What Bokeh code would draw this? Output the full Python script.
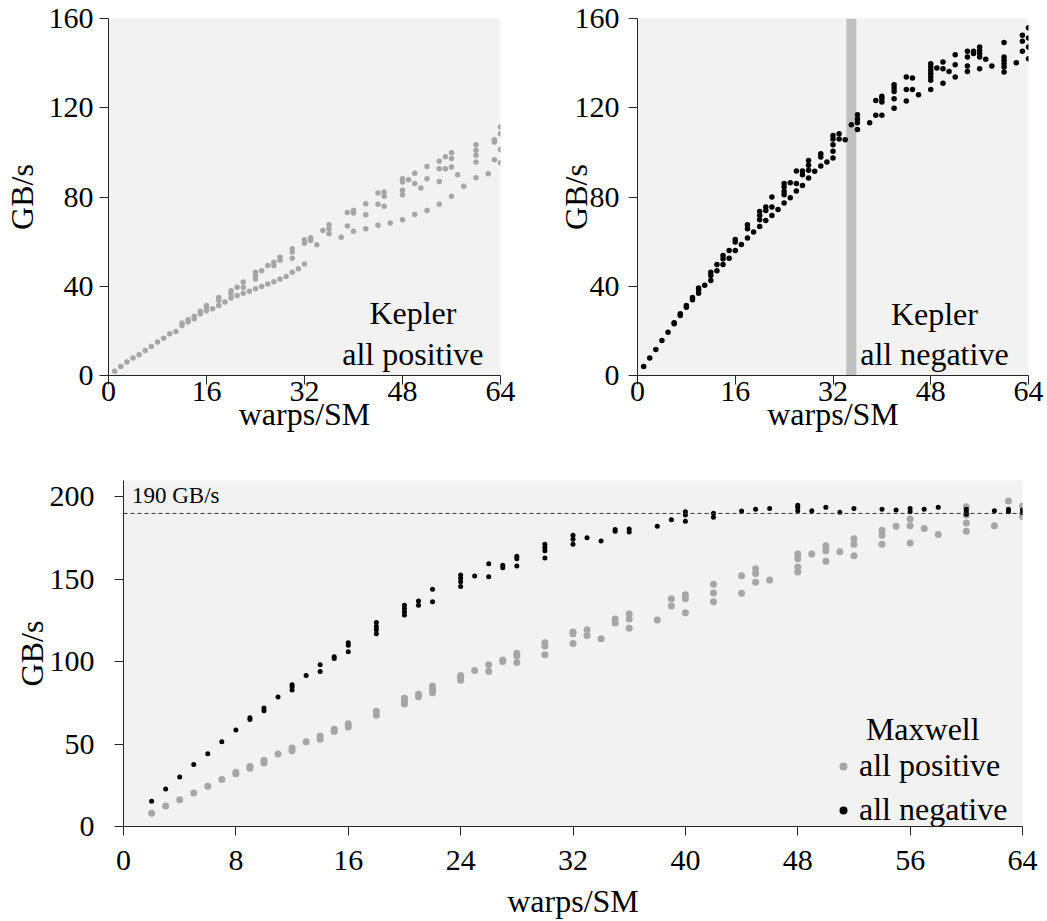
from bokeh.plotting import figure
from bokeh.layouts import column, row
from bokeh.models import Span, Label, Legend, LegendItem, FixedTicker, Range1d
from bokeh.embed import file_html
from bokeh.resources import INLINE

# ---------------------------------------------------------------- data
# Each x (warps/SM) carries the list of measured bandwidths (GB/s).

kepler_pos_x = [1, 2, 3, 4, 5, 6, 7, 8, 9, 10, 11, 12, 13, 14, 15, 16, 17, 18, 19, 20,
                21, 22, 23, 24, 25, 26, 27, 28, 29, 30, 31, 32, 33, 34, 35, 36, 38, 39,
                40, 42, 44, 45, 46, 48, 49, 50, 51, 52, 54, 55, 56, 57, 58, 60, 62, 63, 64]
kepler_pos_y = [[1.9], [4.0], [6.0], [7.8], [9.3], [11.2], [13.0], [15.0], [16.7], [18.7],
                [19.7], [22.4, 23.5], [24.0, 25.0], [25.4, 26.5], [27.7, 28.8],
                [29.0, 30.6, 31.4], [29.9], [31.4, 33.6, 35.0], [32.9], [34.7, 36.6, 38.0],
                [35.9, 39.6], [36.9, 39.6, 41.9], [37.8], [38.9, 43.3, 44.8, 46.3],
                [39.9, 47.0], [41.0, 49.3], [42.0, 49.3, 50.8], [43.3, 51.6, 53.0], [44.4],
                [46.3, 52.6, 55.3, 56.8], [47.8], [50.0, 59.3, 60.8], [60.5, 61.7], [58.6],
                [65.0], [63.5, 65.8, 67.6], [62.0], [67.0, 73.0], [64.6, 72.8, 74.0],
                [65.8, 72.0, 77.0], [67.3, 76.7, 81.8], [75.9, 80.3, 82.2], [68.3],
                [69.8, 81.0, 83.0, 86.7, 88.2], [87.7], [72.2, 86.0, 90.7], [84.0],
                [74.0, 88.2, 93.7], [76.7, 87.0, 92.7, 96.0], [92.7, 98.0],
                [80.3, 93.4, 97.2, 99.8], [90.0], [84.8], [88.6, 95.7, 98.7, 101.0, 103.4],
                [90.4], [96.7, 104.6, 105.7], [95.4, 101.3, 108.4, 111.4]]

kepler_neg_x = [1, 2, 3, 4, 5, 6, 7, 8, 9, 10, 11, 12, 13, 14, 15, 16, 17, 18, 19, 20,
                21, 22, 23, 24, 25, 26, 27, 28, 29, 30, 31, 32, 33, 34, 35, 36, 38, 39,
                40, 42, 44, 45, 46, 48, 49, 50, 51, 52, 54, 55, 56, 57, 58, 60, 62, 63, 64]
kepler_neg_y = [[4.0], [7.8], [11.7], [15.7], [19.4], [23.2, 23.6], [26.9, 27.7],
                [30.6, 31.4], [33.9, 35.0], [36.9, 38.1, 39.2], [40.4], [42.6, 44.8, 46.3],
                [47.0, 49.8], [49.8, 52.3, 53.8], [52.6, 56.0], [56.0, 59.8, 61.0], [58.7],
                [61.6, 65.8, 67.6], [64.3], [66.8, 69.8, 71.7, 73.5], [69.5, 74.0, 75.5],
                [71.7, 75.5, 80.0], [74.4], [77.3, 81.0, 82.5, 84.5, 86.0], [79.7, 86.4],
                [82.7, 86.0, 91.6], [85.2, 90.0, 91.6], [88.5, 92.0, 94.2, 96.4], [91.5],
                [93.9, 97.9, 99.4], [95.7], [97.5, 100.5, 103.4, 106.0, 107.6],
                [106.0, 108.4], [105.7], [112.4], [110.2, 113.3, 115.0, 116.9], [113.3],
                [116.6, 123.3], [116.6, 122.6, 124.0, 125.2],
                [119.8, 124.0, 127.3, 128.8, 130.3], [123.0, 128.2, 133.8], [128.2, 133.3],
                [125.8], [128.2, 132.3, 133.8, 135.3, 136.8, 138.3, 139.7], [137.8],
                [131.0, 137.5, 140.5], [136.3], [133.8, 139.3, 143.8],
                [136.3, 138.7, 142.8, 145.3], [144.3, 145.3],
                [137.5, 142.8, 144.3, 145.7, 147.2], [141.7], [138.7],
                [136.0, 138.3, 139.8, 141.3, 142.8, 149.2], [140.2], [145.3, 149.8, 152.5],
                [142.0, 147.2, 151.3, 155.8]]

# occupancy limit marked on the Kepler "all negative" panel
occupancy_limit = 35

maxwell_pos_x = [2, 3, 4, 5, 6, 7, 8, 9, 10, 11, 12, 13, 14, 15, 16, 18, 20, 21, 22, 24,
                 25, 26, 27, 28, 30, 32, 33, 34, 35, 36, 38, 39, 40, 42, 44, 45, 46, 48,
                 49, 50, 51, 52, 54, 55, 56, 57, 58, 60, 62, 63, 64]
maxwell_pos_y = [[8.1], [12.5], [16.2], [20.4], [24.4], [28.5], [32.0, 33.0], [35.4, 36.4],
                 [38.6, 40.2], [44.0], [46.0, 47.7], [51.5], [52.9, 55.0], [57.6, 59.0],
                 [60.4, 62.4], [67.5, 69.9], [74.3, 76.2, 77.8], [78.8, 80.2],
                 [81.2, 83.4, 85.3], [88.7, 90.7, 91.7], [94.7], [94.0, 98.2],
                 [100.2, 101.0], [99.6, 103.6, 105.1], [104.2, 109.5, 111.5],
                 [111.0, 117.0, 118.0], [116.0, 119.4], [114.0], [123.5, 125.9],
                 [120.4, 125.9, 128.9], [125.3], [133.8, 138.3], [129.8, 138.3, 140.7],
                 [136.4, 141.7, 147.0], [141.5, 152.2], [148.2, 153.6, 156.5], [149.6],
                 [154.5, 157.5, 162.5, 165.4], [165.4], [161.0, 167.4, 170.4], [166.8],
                 [164.4, 171.3, 174.7], [171.3, 176.7, 179.8], [182.2],
                 [172.0, 182.6, 186.6], [180.8], [177.3], [179.2, 184.2, 189.1, 194.0],
                 [182.6], [197.6], [188.1, 194.5]]

maxwell_neg_x = [2, 3, 4, 5, 6, 7, 8, 9, 10, 11, 12, 13, 14, 15, 16, 18, 20, 21, 22, 24,
                 25, 26, 27, 28, 30, 32, 33, 34, 35, 36, 38, 39, 40, 42, 44, 45, 46, 48,
                 49, 50, 51, 52, 54, 55, 56, 57, 58, 60, 62, 63, 64]
maxwell_neg_y = [[15.4], [22.8], [30.1], [37.6], [44.2], [51.5], [58.6], [65.0, 66.0],
                 [70.3, 71.9], [78.6], [82.8, 84.8, 86.1], [91.7], [94.0, 98.2],
                 [102.0, 103.0], [106.0, 110.0, 111.5], [117.0, 119.4, 121.4, 123.8],
                 [128.3, 130.3, 132.3, 134.3], [134.3, 136.8], [136.4, 144.0],
                 [145.7, 148.6, 150.6, 152.6], [152.0], [151.6, 159.5], [157.0, 158.5],
                 [158.1, 162.5, 164.0], [163.0, 167.4, 169.4, 171.3],
                 [171.3, 174.3, 176.7], [175.3], [173.3], [179.2, 180.2], [178.7, 180.6],
                 [182.2], [186.2], [185.2, 189.1, 191.1], [187.7, 190.1], [191.5], [192.5],
                 [193.0], [191.7, 193.7, 195.0], [191.7], [193.7], [190.7], [193.0],
                 [192.5], [192.1], [191.1, 193.0], [192.5], [193.7],
                 [189.5, 191.1, 192.5], [191.7], [191.1, 192.5], [190.5, 192.1]]

# reference bandwidth line on the Maxwell panel
peak_bandwidth = 190

kepler_xticks = [0, 16, 32, 48, 64]
kepler_yticks = [0, 40, 80, 120, 160]
maxwell_xticks = [0, 8, 16, 24, 32, 40, 48, 56, 64]
maxwell_yticks = [0, 50, 100, 150, 200]

# ---------------------------------------------------------------- style
FONT = "Liberation Serif"
FS = "32px"        # captions, axis titles, legend
TICK_FS = "30px"   # tick numbers
BG = "#f2f2f2"
GRAY = "#a6a6a6"
INK = "#262626"


def flatten(xs, groups):
    fx, fy = [], []
    for x, group in zip(xs, groups):
        for y in group:
            fx.append(x)
            fy.append(y)
    return fx, fy


def style(p, xticks, yticks, x_std, x_lbl_std, y_std, y_lbl_std):
    p.background_fill_color = BG
    p.border_fill_color = "white"
    p.outline_line_color = None
    p.xgrid.visible = False
    p.ygrid.visible = False
    p.xaxis.ticker = FixedTicker(ticks=xticks)
    p.yaxis.ticker = FixedTicker(ticks=yticks)
    p.xaxis.axis_label = "warps/SM"
    p.yaxis.axis_label = "GB/s"
    for ax in p.axis:
        ax.axis_label_text_font = FONT
        ax.axis_label_text_font_size = FS
        ax.axis_label_text_font_style = "normal"
        ax.axis_label_text_color = "black"
        ax.major_label_text_font = FONT
        ax.major_label_text_font_size = TICK_FS
        ax.major_label_text_color = "black"
        ax.major_tick_in = 0
        ax.major_tick_out = 9
        ax.minor_tick_line_color = None
        ax.axis_line_color = INK
        ax.major_tick_line_color = INK
    p.xaxis.major_label_standoff = x_std
    p.xaxis.axis_label_standoff = x_lbl_std
    p.yaxis.major_label_standoff = y_std
    p.yaxis.axis_label_standoff = y_lbl_std


def caption(p, x, y, text, align="center", size=FS):
    p.add_layout(Label(x=x, y=y, text=text, text_align=align,
                       text_baseline="alphabetic", text_font=FONT,
                       text_font_size=size, text_color="black"))


# ---------------------------------------------------------------- Kepler, all positive
p1 = figure(width=545, height=462, x_range=Range1d(0, 64), y_range=Range1d(0, 160),
            min_border_left=106, min_border_right=45, min_border_top=18,
            min_border_bottom=87, output_backend="svg", toolbar_location=None)
style(p1, kepler_xticks, kepler_yticks, -3, -8, 6, 6)
kx, ky = flatten(kepler_pos_x, kepler_pos_y)
p1.scatter(kx, ky, size=5.5, fill_color=GRAY, line_color=None)
caption(p1, 49.7, 27.8, "Kepler")
caption(p1, 49.7, 9.8, "all positive")

# ---------------------------------------------------------------- Kepler, all negative
p2 = figure(width=502, height=462, x_range=Range1d(0, 64), y_range=Range1d(0, 160),
            min_border_left=92, min_border_right=19, min_border_top=18,
            min_border_bottom=87, output_backend="svg", toolbar_location=None)
style(p2, kepler_xticks, kepler_yticks, -3, -8, 9, -22)
p2.add_layout(Span(location=occupancy_limit, dimension="height", line_width=10,
                   line_color="#c0c0c0", level="underlay"))
kx, ky = flatten(kepler_neg_x, kepler_neg_y)
p2.scatter(kx, ky, size=5.5, fill_color="black", line_color=None)
caption(p2, 48.6, 27.4, "Kepler")
caption(p2, 48.6, 9.8, "all negative")

# ---------------------------------------------------------------- Maxwell
p3 = figure(width=1047, height=459, x_range=Range1d(0, 64), y_range=Range1d(0, 210),
            min_border_left=123, min_border_right=25, min_border_top=18,
            min_border_bottom=87, output_backend="svg", toolbar_location=None)
style(p3, maxwell_xticks, maxwell_yticks, 15, 10, 20, -3)
p3.add_layout(Span(location=peak_bandwidth, dimension="width", line_width=1,
                   line_dash="4 3", line_color="#333333"))
caption(p3, 0.6, 201, f"{peak_bandwidth} GB/s", align="left", size="23px")

mx, my = flatten(maxwell_pos_x, maxwell_pos_y)
r_pos = p3.scatter(mx, my, size=7, fill_color=GRAY, line_color=None)
mx, my = flatten(maxwell_neg_x, maxwell_neg_y)
r_neg = p3.scatter(mx, my, size=5, fill_color="black", line_color=None)

caption(p3, 56.9, 59.4, "Maxwell")
legend = Legend(items=[LegendItem(label="all positive", renderers=[r_pos]),
                       LegendItem(label="all negative", renderers=[r_neg])],
                location=(710, -2), label_text_font=FONT, label_text_font_size=FS,
                label_text_color="black", background_fill_alpha=0,
                border_line_color=None, glyph_width=20, label_standoff=6,
                spacing=7, padding=0, margin=0)
p3.add_layout(legend)

layout = column(row(p1, p2), p3)

with open("out.html", "w") as f:
    f.write(file_html(layout, INLINE))
